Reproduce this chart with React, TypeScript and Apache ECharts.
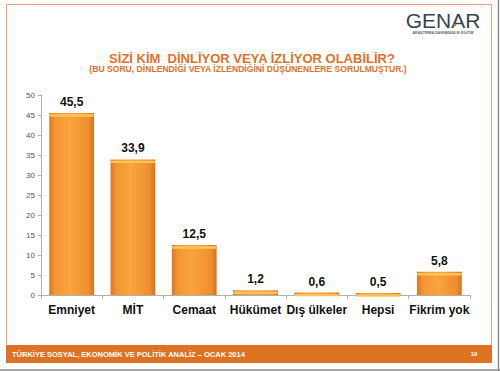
import React, { useEffect, useRef } from "react";
import * as echarts from "echarts";

const categories = ["Emniyet", "MİT", "Cemaat", "Hükümet", "Dış ülkeler", "Hepsi", "Fikrim yok"];
const values = [45.5, 33.9, 12.5, 1.2, 0.6, 0.5, 5.8];
const yTicks = [0, 5, 10, 15, 20, 25, 30, 35, 40, 45, 50];
const titleText = "SİZİ KİM  DİNLİYOR VEYA İZLİYOR OLABİLİR?";
const subtitleText = "(BU SORU, DİNLENDİĞİ VEYA İZLENDİĞİNİ DÜŞÜNENLERE SORULMUŞTUR.)";
const footerText = "TÜRKİYE SOSYAL, EKONOMİK VE POLİTİK ANALİZ – OCAK 2014";
const pageNumber = "10";

const FONT = "'Liberation Sans', Arial, sans-serif";
const ORANGE = "#e2702a";

export default function App() {
  const ref = useRef<HTMLDivElement>(null);
  useEffect(() => {
    document.body.style.margin = "0";
    if (!ref.current) return;
    const chart = echarts.init(ref.current, null, { renderer: "svg" });
    chart.setOption({
      animation: false,
      backgroundColor: "#ffffff",
      grid: { left: 41, right: 30, top: 95, bottom: 76, containLabel: false },
      xAxis: {
        type: "category",
        data: categories,
        axisLine: { lineStyle: { color: "#b0b0b0", width: 1 } },
        axisTick: { show: true, length: 4, lineStyle: { color: "#b0b0b0" } },
        axisLabel: {
          color: "#111",
          fontFamily: FONT,
          fontWeight: "bold",
          fontSize: 12,
          margin: 9,
          interval: 0,
        },
      },
      yAxis: {
        type: "value",
        min: yTicks[0],
        max: yTicks[yTicks.length - 1],
        interval: 5,
        axisLine: { show: true, lineStyle: { color: "#b0b0b0" } },
        axisTick: { show: true, length: 3, lineStyle: { color: "#b0b0b0" } },
        splitLine: { show: false },
        axisLabel: { color: "#555", fontFamily: FONT, fontSize: 8, margin: 6 },
      },
      series: [
        {
          type: "bar",
          data: values,
          barCategoryGap: "27%",
          z: 2,
          itemStyle: {
            color: new echarts.graphic.LinearGradient(0, 0, 1, 0, [
              { offset: 0, color: "#dd7420" },
              { offset: 0.12, color: "#f29530" },
              { offset: 0.45, color: "#f9a43c" },
              { offset: 0.88, color: "#ef8e2c" },
              { offset: 1, color: "#d8701e" },
            ]),
          },
          label: {
            show: true,
            position: "top",
            distance: 5,
            color: "#111",
            fontFamily: FONT,
            fontWeight: "bold",
            fontSize: 12,
            formatter: (p: any) => String(p.value).replace(".", ","),
          },
        },
        {
          type: "pictorialBar",
          data: values,
          symbol: "rect",
          symbolSize: [44, 2.5],
          symbolPosition: "end",
          symbolOffset: [0, "50%"],
          barGap: "-100%",
          z: 3,
          silent: true,
          itemStyle: { color: "#fcc45c" },
          label: { show: false },
        },
      ],
      graphic: [
        {
          type: "rect",
          shape: { x: 6.5, y: 4.5, width: 485, height: 341 },
          style: { fill: "none", stroke: "#eaa27a", lineWidth: 1 },
          z: 0,
        },
        {
          type: "rect",
          shape: { x: 6, y: 345, width: 486, height: 18 },
          style: { fill: "#dd7223" },
          z: 1,
        },
        {
          type: "line",
          shape: { x1: 498.5, y1: 0, x2: 498.5, y2: 371 },
          style: { stroke: "#8a8a8a", lineWidth: 1.5 },
        },
        {
          type: "line",
          shape: { x1: 0, y1: 370, x2: 500, y2: 370 },
          style: { stroke: "#8a8a8a", lineWidth: 1.5 },
        },
        {
          type: "text",
          x: 12,
          y: 354,
          style: {
            text: footerText,
            fill: "#ffffff",
            font: `bold 7.5px ${FONT}`,
            textVerticalAlign: "middle",
          },
          z: 2,
        },
        {
          type: "text",
          x: 474,
          y: 354,
          style: {
            text: pageNumber,
            fill: "#ffffff",
            font: `bold 6px ${FONT}`,
            textAlign: "center",
            textVerticalAlign: "middle",
          },
          z: 2,
        },
        {
          type: "text",
          x: 252,
          y: 58,
          style: {
            text: titleText,
            fill: ORANGE,
            font: `bold 13px ${FONT}`,
            textAlign: "center",
            textVerticalAlign: "middle",
          },
        },
        {
          type: "text",
          x: 248,
          y: 69,
          style: {
            text: subtitleText,
            fill: ORANGE,
            font: `bold 8.6px ${FONT}`,
            textAlign: "center",
            textVerticalAlign: "middle",
          },
        },
        {
          type: "text",
          x: 443,
          y: 20,
          style: {
            text: "GENAR",
            fill: "#37444a",
            font: `21px ${FONT}`,
            textAlign: "center",
            textVerticalAlign: "middle",
          },
        },
        {
          type: "circle",
          shape: { cx: 455, cy: 25, r: 1.3 },
          style: { fill: "#e2702a" },
        },
        {
          type: "text",
          x: 443,
          y: 33,
          style: {
            text: "ARAŞTIRMA DANIŞMANLIK EĞİTİM",
            fill: "#666",
            font: `bold 3.6px ${FONT}`,
            textAlign: "center",
            textVerticalAlign: "middle",
          },
        },
      ],
    });
    return () => chart.dispose();
  }, []);
  return <div ref={ref} style={{ width: 500, height: 371 }} />;
}
